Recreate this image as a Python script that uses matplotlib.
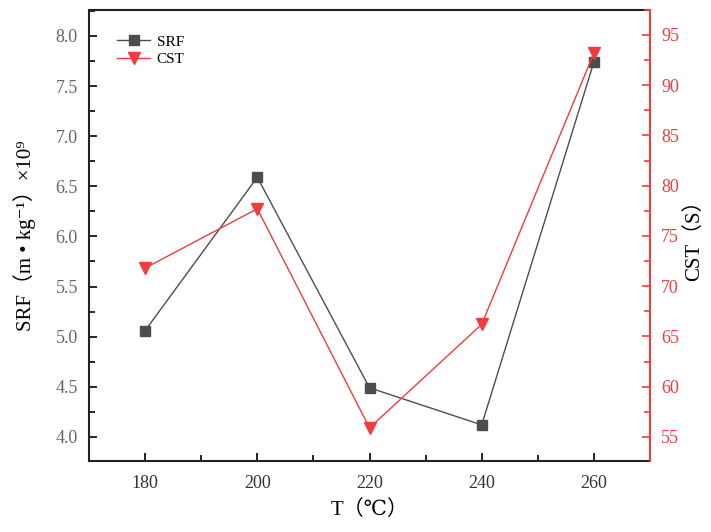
import matplotlib
matplotlib.use("Agg")
import matplotlib.pyplot as plt
from matplotlib.ticker import MultipleLocator

T = [180, 200, 220, 240, 260]
SRF = [5.06, 6.59, 4.49, 4.12, 7.74]
CST = [71.8, 77.7, 55.9, 66.2, 93.2]

FAM = ['Liberation Serif', 'DejaVu Serif', 'Noto Sans CJK SC']
plt.rcParams['font.family'] = FAM

fig = plt.figure(figsize=(7.11, 5.32), dpi=100)
ax = fig.add_axes([0.1252, 0.1335, 0.789, 0.848])
ax2 = ax.twinx()

gray = '#4d4d4d'
red = '#f03c3c'

l1, = ax.plot(T, SRF, color=gray, marker='s', markersize=7, linewidth=1.0,
              label='SRF', zorder=3)
l2, = ax2.plot(T, CST, color=red, marker='v', markersize=9, linewidth=1.0,
               label='CST', zorder=3)

ax.set_xlim(170, 270)
ax.set_ylim(3.76, 8.26)
ax2.set_ylim(52.6, 97.5)

ax.xaxis.set_major_locator(MultipleLocator(20))
ax.xaxis.set_minor_locator(MultipleLocator(10))
ax.yaxis.set_major_locator(MultipleLocator(0.5))
ax.yaxis.set_minor_locator(MultipleLocator(0.25))
ax2.yaxis.set_major_locator(MultipleLocator(5))
ax2.yaxis.set_minor_locator(MultipleLocator(2.5))

ax.yaxis.set_major_formatter(matplotlib.ticker.FormatStrFormatter('%.1f'))

ax.tick_params(axis='both', which='both', direction='in', width=1.2)
ax.tick_params(axis='both', which='major', length=6)
ax.tick_params(axis='both', which='minor', length=4)
ax.tick_params(axis='x', labelsize=13, labelcolor='#333333', pad=10)
ax.tick_params(axis='y', labelsize=13, labelcolor='#666666', pad=8)
ax.tick_params(top=False, right=False, which='both')

ax2.tick_params(axis='y', which='both', direction='in', colors=red, width=1.2,
                labelsize=13, pad=8)
ax2.tick_params(axis='y', which='major', length=6)
ax2.tick_params(axis='y', which='minor', length=4)

for s in ['left', 'bottom', 'top']:
    ax.spines[s].set_linewidth(1.5)
    ax.spines[s].set_color('#222222')
ax.spines['right'].set_visible(False)
ax2.spines['left'].set_visible(False)
ax2.spines['bottom'].set_visible(False)
ax2.spines['top'].set_visible(False)
ax2.spines['right'].set_color(red)
ax2.spines['right'].set_linewidth(1.5)

ax.set_xlabel('T（℃）', fontsize=15, labelpad=6)
ax.set_ylabel('SRF（m • kg⁻¹）×10⁹', fontsize=15, labelpad=14)
ax2.set_ylabel('CST（S）', fontsize=15, labelpad=4)

leg = ax.legend([l1, l2], ['SRF', 'CST'], loc='upper left',
                bbox_to_anchor=(0.025, 0.975), frameon=False, fontsize=11,
                handlelength=2.2, handletextpad=0.4, labelspacing=0.25)

fig.savefig('out.png', dpi=100)
